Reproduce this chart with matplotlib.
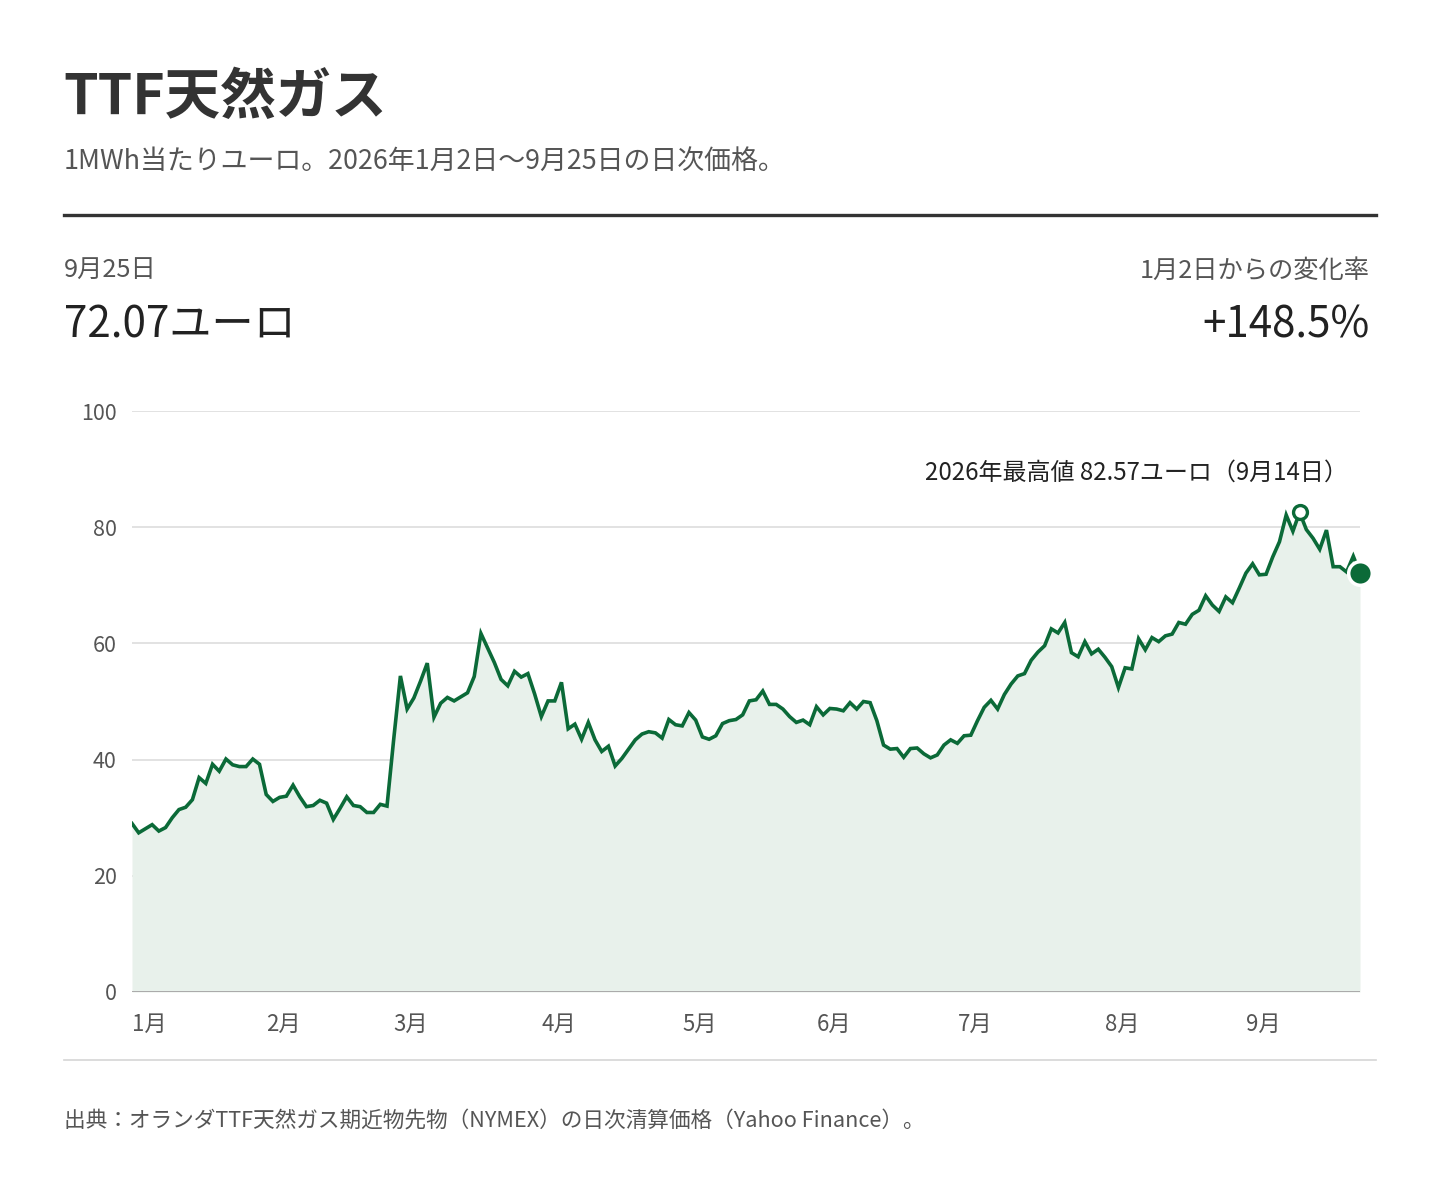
import numpy as np
import pandas as pd
import matplotlib
matplotlib.use("Agg")
import matplotlib.pyplot as plt

plt.rcParams['font.family'] = ['Noto Sans CJK JP', 'DejaVu Sans']

# ---------------- data ----------------
start_date = "2026-01-02"
end_date = "2026-09-25"
holidays = ["2026-01-19", "2026-02-16", "2026-04-03", "2026-05-25",
            "2026-06-19", "2026-07-03", "2026-09-07"]

prices = [
    29.0, 27.4, 28.1, 28.8, 27.7, 28.3, 30.0, 31.4, 31.8, 33.1,
    36.9, 35.9, 39.2, 38.0, 40.1, 39.1, 38.8, 38.8, 40.1, 39.2,
    34.0, 32.8, 33.5, 33.7, 35.6, 33.6, 31.9, 32.1, 33.0, 32.5,
    29.7, 31.6, 33.6, 32.1, 31.9, 30.9, 30.9, 32.3, 32.0, 43.5,
    54.4, 48.7, 50.6, 53.5, 56.6, 47.3, 49.7, 50.7, 50.1, 50.8,
    51.5, 54.3, 61.7, 59.2, 56.7, 53.8, 52.7, 55.2, 54.2, 54.8,
    51.3, 47.4, 50.1, 50.1, 53.3, 45.3, 46.1, 43.5, 46.4, 43.4,
    41.4, 42.3, 38.9, 40.2, 41.8, 43.4, 44.4, 44.8, 44.6, 43.7,
    46.9, 46.0, 45.8, 48.1, 46.8, 43.9, 43.5, 44.1, 46.2, 46.7,
    46.9, 47.7, 50.1, 50.3, 51.8, 49.5, 49.5, 48.7, 47.4, 46.4,
    46.8, 46.0, 49.1, 47.7, 48.8, 48.7, 48.4, 49.8, 48.7, 50.0,
    49.8, 46.7, 42.5, 41.8, 41.9, 40.4, 41.9, 42.0, 41.0, 40.3,
    40.8, 42.5, 43.4, 42.8, 44.1, 44.2, 46.7, 49.0, 50.2, 48.7,
    51.2, 53.0, 54.4, 54.8, 57.1, 58.5, 59.6, 62.5, 61.8, 63.6,
    58.4, 57.7, 60.3, 58.2, 59.0, 57.6, 56.0, 52.4, 55.8, 55.6,
    60.8, 58.9, 61.0, 60.3, 61.3, 61.6, 63.6, 63.3, 65.0, 65.7,
    68.2, 66.6, 65.5, 68.0, 67.0, 69.5, 72.1, 73.7, 71.8, 71.9,
    74.9, 77.5, 82.1, 79.3, 82.57, 79.6, 78.1, 76.2, 79.5, 73.2,
    73.2, 72.3, 75.0, 72.07,
]

y_ticks = [0, 20, 40, 60, 80, 100]
month_labels = ["1月", "2月", "3月", "4月", "5月", "6月", "7月", "8月", "9月"]

title = "TTF天然ガス"
subtitle = "1MWh当たりユーロ。2026年1月2日〜9月25日の日次価格。"
last_label = "9月25日"
last_value_text = "72.07ユーロ"
change_label = "1月2日からの変化率"
change_text = "+148.5%"
max_date = "2026-09-14"
max_value = 82.57
max_text = "2026年最高値 82.57ユーロ（9月14日）"
source = "出典：オランダTTF天然ガス期近物先物（NYMEX）の日次清算価格（Yahoo Finance）。"

# ---------------- build ----------------
dates = pd.bdate_range(start_date, end_date)
dates = dates[~dates.isin(pd.to_datetime(holidays))]
idx = np.arange(len(dates))
vals = np.array(prices)
assert len(vals) == len(dates)

month_starts = []
for m in range(1, 10):
    sel = idx[dates.month == m]
    month_starts.append(sel[0])

max_idx = int(np.where(dates == pd.Timestamp(max_date))[0][0])

W, H = 1440, 1180
fig = plt.figure(figsize=(W / 100, H / 100), dpi=100)
fig.patch.set_facecolor("white")


def fx(px):
    return px / W


def fy(py):
    return 1 - py / H


GREEN = "#0b6a38"
FILL = "#e8f1eb"

# header texts
fig.text(fx(63), fy(98), title, fontsize=40, fontweight="bold", color="#333333",
         ha="left", va="center")
fig.text(fx(64), fy(161), subtitle, fontsize=19.4, color="#555555",
         ha="left", va="center")
fig.add_artist(plt.Line2D([fx(64), fx(1376)], [fy(215), fy(215)],
                          color="#333333", lw=2.4, transform=fig.transFigure))

fig.text(fx(64), fy(271), last_label, fontsize=18.2, color="#555555",
         ha="left", va="center")
fig.text(fx(64), fy(326), last_value_text, fontsize=30.3, color="#222222",
         ha="left", va="center")
fig.text(fx(1370), fy(271), change_label, fontsize=18.2, color="#555555",
         ha="right", va="center")
fig.text(fx(1370), fy(326), change_text, fontsize=30.3, color="#222222",
         ha="right", va="center")

# chart axes
ax = fig.add_axes([fx(132), fy(992), fx(1360) - fx(132), fy(411) - fy(992)])
ax.set_xlim(0, len(idx) - 1)
ax.set_ylim(0, 100)
ax.fill_between(idx, 0, vals, color=FILL, lw=0, zorder=1)
ax.plot(idx, vals, color=GREEN, lw=2.6, solid_joinstyle="miter", zorder=3)

for s in ax.spines.values():
    s.set_visible(False)
ax.set_yticks(y_ticks)
ax.set_yticklabels([str(t) for t in y_ticks])
ax.yaxis.grid(True, color="#dddddd", lw=1.2, zorder=0)
ax.set_axisbelow(True)
ax.axhline(0, color="#aaaaaa", lw=1.4, zorder=2)
ax.tick_params(axis="y", length=0, pad=11, labelsize=15.5, labelcolor="#555555")

ax.set_xticks(month_starts)
ax.set_xticklabels(month_labels)
for lab in ax.get_xticklabels():
    lab.set_ha("left")
ax.tick_params(axis="x", length=0, pad=15, labelsize=16, labelcolor="#555555")

# markers
ax.plot([max_idx], [max_value], marker="o", ms=10, mfc="white", mec=GREEN,
        mew=2.4, zorder=5, clip_on=False)
ax.plot([idx[-1]], [vals[-1]], marker="o", ms=17, mfc=GREEN, mec="white",
        mew=2.5, zorder=6, clip_on=False)
ax.text(max_idx + 7.2, max_value + 6.8, max_text, fontsize=17.3, color="#222222",
        ha="right", va="center")

# bottom rule and source
fig.add_artist(plt.Line2D([fx(64), fx(1376)], [fy(1060), fy(1060)],
                          color="#d5d5d5", lw=1.2, transform=fig.transFigure))
fig.text(fx(64), fy(1121), source, fontsize=15.6, color="#555555",
         ha="left", va="center")

fig.savefig("out.png", dpi=100, facecolor="white")
